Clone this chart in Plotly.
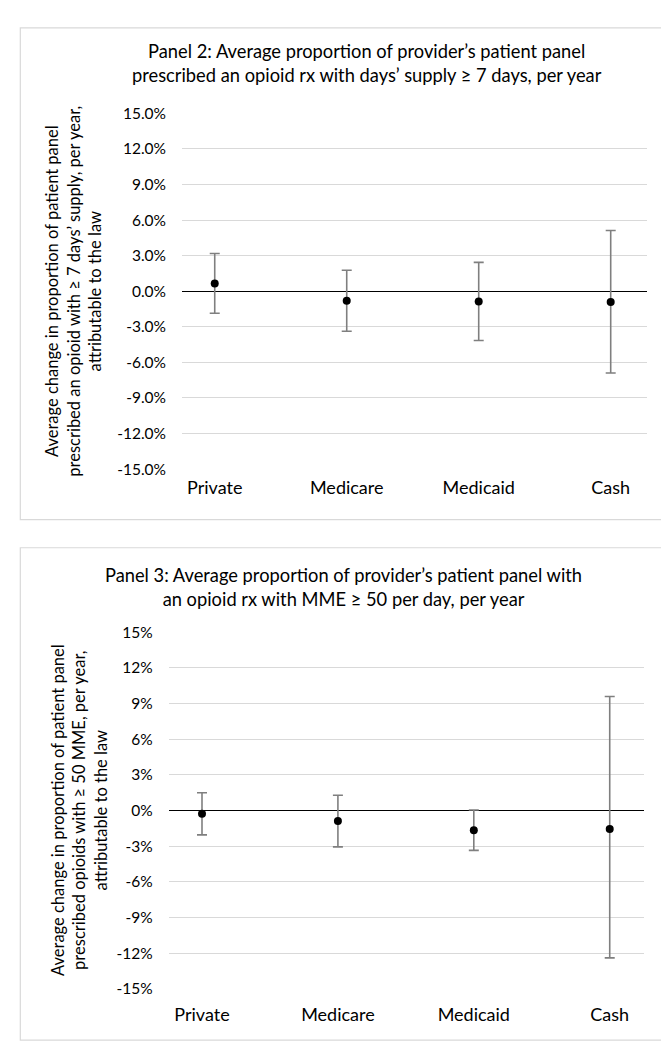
import plotly.graph_objects as go

W, H = 669, 1050

categories = ["Private", "Medicare", "Medicaid", "Cash"]

# Panel 2: days' supply >= 7 days (proportions)
p2_estimate = [0.0066, -0.0080, -0.0086, -0.0090]
p2_lower = [-0.0185, -0.0337, -0.0415, -0.0690]
p2_upper = [0.0318, 0.0177, 0.0243, 0.0512]

# Panel 3: MME >= 50 per day (proportions)
p3_estimate = [-0.0028, -0.0089, -0.0165, -0.0155]
p3_lower = [-0.0205, -0.0306, -0.0335, -0.1240]
p3_upper = [0.0150, 0.0129, 0.0004, 0.0960]

y_ticks = [-0.15, -0.12, -0.09, -0.06, -0.03, 0.0, 0.03, 0.06, 0.09, 0.12, 0.15]
p2_tick_labels = ["-15.0%", "-12.0%", "-9.0%", "-6.0%", "-3.0%", "0.0%",
                  "3.0%", "6.0%", "9.0%", "12.0%", "15.0%"]
p3_tick_labels = ["-15%", "-12%", "-9%", "-6%", "-3%", "0%",
                  "3%", "6%", "9%", "12%", "15%"]

title2 = "Panel 2: Average proportion of provider\u2019s patient panel<br>prescribed an opioid rx with days\u2019 supply \u2265 7 days, per year"
title3 = "Panel 3: Average proportion of provider\u2019s patient panel with<br>an opioid rx with MME \u2265 50 per day, per year"
ytitle2 = "Average change in proportion of patient panel<br>prescribed an opioid with \u2265 7 days\u2019 supply, per year,<br>attributable to the law"
ytitle3 = "Average change in proportion of patient panel<br>prescribed opioids with \u2265 50 MME, per year,<br>attributable to the law"

FONT = "Lato"
GRID = "#d9d9d9"
ERR = "#7f7f7f"


def px_x(v):
    return v / W


def px_y(v):
    return 1 - v / H


fig = go.Figure()

for est, lo, hi, xa, ya in [
    (p2_estimate, p2_lower, p2_upper, "x", "y"),
    (p3_estimate, p3_lower, p3_upper, "x2", "y2"),
]:
    fig.add_trace(go.Scatter(
        x=categories, y=est, xaxis=xa, yaxis=ya, mode="markers",
        marker=dict(color="black", size=8),
        error_y=dict(type="data", symmetric=False,
                     array=[h - e for h, e in zip(hi, est)],
                     arrayminus=[e - l for e, l in zip(est, lo)],
                     color=ERR, thickness=1.6, width=5),
        showlegend=False, hoverinfo="skip",
    ))

yaxis_common = dict(
    range=[-0.15, 0.15], tickvals=y_ticks, showgrid=True, gridcolor=GRID, gridwidth=1.2,
    zeroline=True, zerolinecolor="black", zerolinewidth=1.2, showline=False,
    ticks="", tickfont=dict(family=FONT, size=15.5, color="black"), fixedrange=True,
)
xaxis_common = dict(
    type="category", showgrid=False, zeroline=False, showline=False, ticks="",
    tickfont=dict(family=FONT, size=18, color="black"), fixedrange=True,
)

fig.update_layout(
    width=W, height=H, margin=dict(l=0, r=0, t=0, b=0),
    paper_bgcolor="white", plot_bgcolor="white",
    font=dict(family=FONT, color="black"),
    xaxis=dict(xaxis_common, domain=[px_x(174), px_x(639)], range=[-0.248, 3.275],
               anchor="y", ticklabelstandoff=6),
    yaxis=dict(yaxis_common, domain=[px_y(459), px_y(97)], anchor="x",
               ticktext=p2_tick_labels, ticklabelstandoff=15),
    xaxis2=dict(xaxis_common, domain=[px_x(160.7), px_x(635.7)], range=[-0.245, 3.25],
                anchor="y2", ticklabelstandoff=13),
    yaxis2=dict(yaxis_common, domain=[px_y(987.7), px_y(625)], anchor="x2",
                ticktext=p3_tick_labels, ticklabelstandoff=15),
    shapes=[
        dict(type="rect", xref="paper", yref="paper",
             x0=px_x(12.3), x1=px_x(657.3), y0=px_y(510.3), y1=px_y(10),
             line=dict(color=GRID, width=1.2), fillcolor="rgba(0,0,0,0)", layer="below"),
        dict(type="rect", xref="paper", yref="paper",
             x0=px_x(12.3), x1=px_x(657.3), y0=px_y(1040), y1=px_y(539),
             line=dict(color=GRID, width=1.2), fillcolor="rgba(0,0,0,0)", layer="below"),
    ],
    annotations=[
        dict(text=title2, xref="paper", yref="paper", x=px_x(358.7), y=px_y(46),
             xanchor="center", yanchor="middle", showarrow=False,
             font=dict(family=FONT, size=18.3, color="black")),
        dict(text=title3, xref="paper", yref="paper", x=px_x(335), y=px_y(579),
             xanchor="center", yanchor="middle", showarrow=False,
             font=dict(family=FONT, size=18.3, color="black")),
        dict(text=ytitle2, xref="paper", yref="paper", x=px_x(65.5), y=px_y(278),
             xanchor="center", yanchor="middle", showarrow=False, textangle=-90,
             font=dict(family=FONT, size=16.5, color="black")),
        dict(text=ytitle3, xref="paper", yref="paper", x=px_x(70.8), y=px_y(806),
             xanchor="center", yanchor="middle", showarrow=False, textangle=-90,
             font=dict(family=FONT, size=16.5, color="black")),
    ],
)

fig.write_html("out.html")
